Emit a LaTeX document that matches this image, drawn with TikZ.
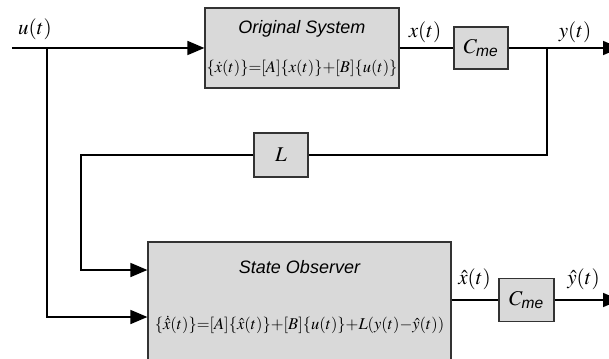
\documentclass[tikz,border=0pt]{standalone}
\usepackage{amsmath}
\usepackage{mathptmx}
\usepackage[no-math]{fontspec}
\setmainfont{Liberation Serif}
\setsansfont{Liberation Sans}
\usetikzlibrary{arrows.meta}
\usetikzlibrary{positioning}
\tikzstyle{every node}+=[inner sep=0pt]
\tikzstyle{block} = [rectangle, draw=black!80, fill=gray!30, line width=1.2pt]
\tikzstyle{line} = [draw, line width=1.6pt, -{Triangle[length=17pt, width=14pt]}]
\tikzstyle{wire} = [draw, line width=1.6pt]
\tikzstyle{title} = [font=\fontsize{18}{20}\selectfont\sffamily\itshape]
\tikzstyle{eqn} = [font=\fontsize{16.5}{18}\selectfont]
\tikzstyle{signal} = [font=\fontsize{21}{23}\selectfont]
\tikzstyle{gainbox} = [block, font=\fontsize{21}{23}\selectfont]
\newcommand{\Cme}{$C_{\textsf{\textit{me}}}$}

\begin{document}
\begin{tikzpicture}[node distance = 2cm, auto]
            \useasboundingbox (-302pt,48pt) rectangle (307pt,-310pt);
            % Place nodes
            \node [block, minimum width=194pt, minimum height=80pt] (sys) {};
            \node [title, above of=sys, node distance=19pt] (sysname) {Original System};
            \node [eqn, below of=sys, node distance=20pt] (syseq) {$\{\dot{x}(t)\}{=}[A]\{x(t)\}{+}[B]\{u(t)\}$};
            \node [gainbox, right of=sys, node distance=179pt, minimum width=54pt, minimum height=42pt] (cme1) {\Cme};
            \node [gainbox, below of=sys, node distance=107pt, xshift=-21pt, minimum width=54pt, minimum height=44pt] (gain) {$L$};
            \node [block, below of=sys, node distance=259pt, xshift=-2.5pt, minimum width=303pt, minimum height=130pt] (obs) {};
            \node [title, above of=obs, node distance=40pt] (obsname) {State Observer};
            \node [eqn, below of=obs, node distance=18pt] (obseq) {$\{\dot{\hat{x}}(t)\}{=}[A]\{\hat{x}(t)\}{+}[B]\{u(t)\}{+}L(y(t){-}\hat{y}(t))$};
            \node [gainbox, right of=obs, node distance=227pt, yshift=7pt, minimum width=55pt, minimum height=43pt] (cme2) {\Cme};
            % Junctions and ends
            \coordinate [left of=sys, node distance=290pt] (in);
            \coordinate [left of=sys, node distance=255pt] (bu);
            \coordinate [right of=cme1, node distance=66pt] (by);
            \coordinate [right of=cme1, node distance=139pt] (out1);
            \coordinate [left of=obs, node distance=218.5pt, yshift=37pt] (bl);
            \coordinate [left of=obs, node distance=252.5pt, yshift=-10pt] (bu2);
            \coordinate [right of=cme2, node distance=93.5pt] (out2);
            % Signal names
            \node [signal, right of=in, node distance=23pt, yshift=19pt] (u) {$u(t)$};
            \node [signal, left of=cme1, node distance=56pt, yshift=16pt] (x) {$x(t)$};
            \node [signal, right of=cme1, node distance=94pt, yshift=16pt] (y) {$y(t)$};
            \node [signal, left of=cme2, node distance=52pt, yshift=21pt] (xh) {$\hat{x}(t)$};
            \node [signal, right of=cme2, node distance=57pt, yshift=21pt] (yh) {$\hat{y}(t)$};
            % Draw edges
            \path [line] (in) -- (sys);
            \path [wire] (sys) -- (cme1);
            \path [line] (cme1) -- (out1);
            \path [wire] (by) |- (gain);
            \path [line] (gain) -| (bl) -- (bl -| obs.west);
            \path [line] (bu) -- (bu2) -- (bu2 -| obs.west);
            \path [wire] (obs.east |- cme2) -- (cme2);
            \path [line] (cme2) -- (out2);
          \end{tikzpicture}
\end{document}
